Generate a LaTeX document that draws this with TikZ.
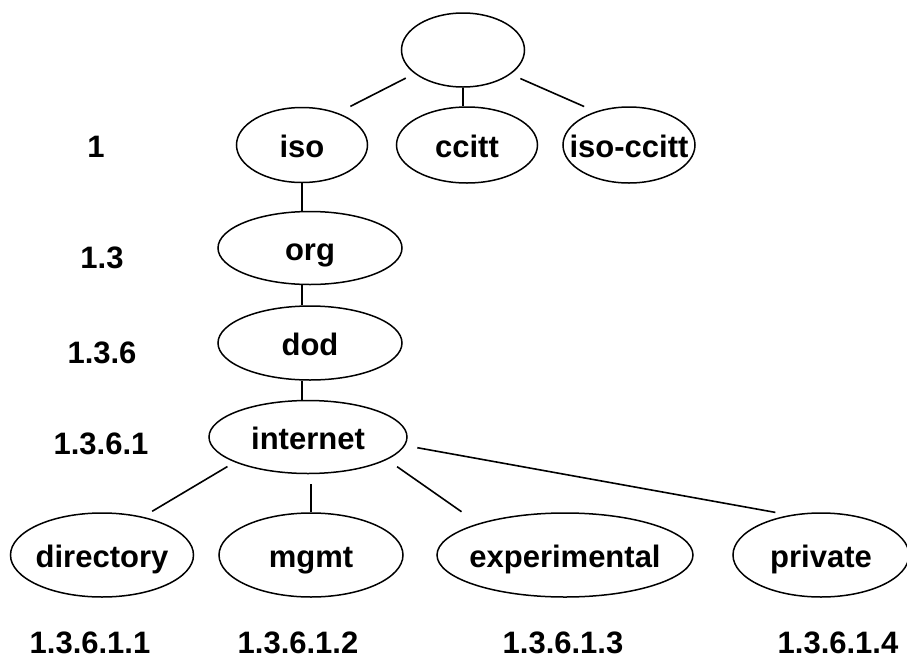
\documentclass[tikz,border=0pt]{standalone}
\usepackage{fontspec}
\setmainfont{Liberation Sans}
\usetikzlibrary{shapes.geometric}
\tikzset{oid/.style={ellipse,draw,line width=0.75pt,inner xsep=-7pt,inner ysep=0pt,text height=12.5pt,text depth=0pt}}
\tikzset{num/.style={inner sep=0pt}}

\begin{document}
\begin{tikzpicture}[x=0.5pt,y=-0.5pt,font=\fontsize{15.5}{18}\selectfont\bfseries,line width=0.8pt]
      \useasboundingbox (0,0) rectangle (907,660);
      \node[oid,minimum width=61.5pt,minimum height=37pt] (root) at (463,50) {};
      \node[oid,minimum width=65.5pt,minimum height=37.5pt] (iso) at (302,145) {iso};
      \node[oid,minimum width=70.5pt,minimum height=38pt] (ccitt) at (467,145) {ccitt};
      \node[oid,minimum width=66pt,minimum height=38pt] (isoccitt) at (629,145) {iso-ccitt};
      \node[oid,minimum width=92pt,minimum height=36.5pt] (org) at (310,248) {org};
      \node[oid,minimum width=92pt,minimum height=37pt] (dod) at (310,343) {dod};
      \node[oid,minimum width=99pt,minimum height=36.5pt] (internet) at (308,437) {internet};
      \node[oid,minimum width=91.5pt,minimum height=42pt] (directory) at (102,555) {directory};
      \node[oid,minimum width=92pt,minimum height=42pt] (mgmt) at (311,555) {mgmt};
      \node[oid,minimum width=128pt,minimum height=42pt] (experimental) at (565,555) {experimental};
      \node[oid,minimum width=88pt,minimum height=42pt] (private) at (821,555) {private};
      % object identifiers
      \node[num] (n1) at (96,147) {1};
      \node[num] (n13) at (102,258) {1.3};
      \node[num] (n136) at (102,353) {1.3.6};
      \node[num] (n1361) at (101,444) {1.3.6.1};
      \node[num] (n13611) at (90,643) {1.3.6.1.1};
      \node[num] (n13612) at (298,643) {1.3.6.1.2};
      \node[num] (n13613) at (563,643) {1.3.6.1.3};
      \node[num] (n13614) at (838,643) {1.3.6.1.4};
      % links
      \draw (root.south) -- (root.south |- ccitt.north);
      \draw (iso.south) -- (iso.south |- org.north);
      \draw (org.south -| iso.south) -- (dod.north -| iso.south);
      \draw (dod.south -| iso.south) -- (internet.north -| iso.south);
      \draw[shorten <=5pt] (mgmt.north |- internet.south) -- (mgmt.north);
      \foreach \a/\b/\s/\e in {root.206/iso.42/4.9pt/7.1pt,root.-27/isoccitt.135/5.3pt/6.2pt,
          internet.199/directory.43/4.2pt/5.3pt,internet.-16/experimental.160/6.1pt/10.2pt,
          internet.-5/private.128/6.2pt/7.3pt}
        \draw[shorten <=\s,shorten >=\e] (\a) -- (\b);
    \end{tikzpicture}
\end{document}
